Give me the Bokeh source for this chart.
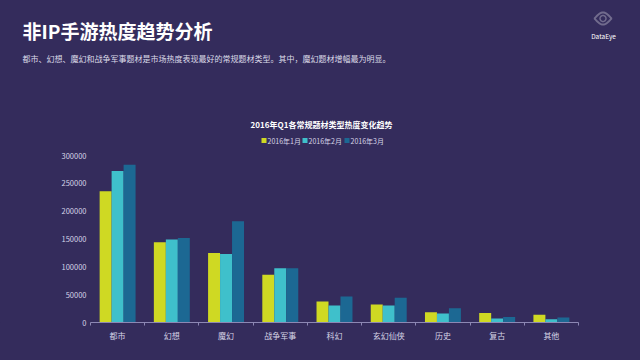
from bokeh.plotting import figure
from bokeh.models import (ColumnDataSource, Range1d, FixedTicker, Label,
                          BoxAnnotation, PolyAnnotation)
from bokeh.embed import file_html
from bokeh.resources import INLINE
import math

# ---- data ----
categories = ["都市", "幻想", "魔幻", "战争军事", "科幻", "玄幻仙侠", "历史", "复古", "其他"]
series_names = ["2016年1月", "2016年2月", "2016年3月"]
jan = [236000, 144000, 125000, 86000, 37700, 32300, 18500, 17000, 14000]
feb = [272000, 149000, 123000, 97400, 30500, 30500, 16100, 7000, 6000]
mar = [283500, 152000, 182000, 97400, 46600, 44300, 25700, 10000, 9000]
y_ticks = [0, 50000, 100000, 150000, 200000, 250000, 300000]
y_max = 300000

BG = "#342c5c"
COLORS = ["#cfd923", "#3fc0cb", "#1c6893"]
FONT = "Noto Sans CJK SC"

W, H = 640, 360
# plot area geometry (pixels): categories span x 90..578, value axis 0 at y=322, max at y=155
AX_L, AX_R, AX_B, AX_T = 90, 578, 322, 155
n = len(categories)
upx = (AX_R - AX_L) / n
x0 = -AX_L / upx
x1 = n + (W - AX_R) / upx
vpx = y_max / (AX_B - AX_T)
ytop = y_max + AX_T * vpx

p = figure(width=W, height=H, output_backend="svg", toolbar_location=None,
           title=None, x_range=Range1d(x0, x1), y_range=Range1d(0, ytop),
           min_border_left=0, min_border_right=0, min_border_top=0,
           min_border_bottom=H - AX_B)
p.background_fill_color = BG
p.border_fill_color = BG
p.outline_line_color = None
p.grid.visible = False

centers = [i + 0.5 for i in range(n)]
bw = 0.221
for k, vals in enumerate([jan, feb, mar]):
    src = ColumnDataSource(dict(x=[c + (k - 1) * bw for c in centers], top=vals))
    p.vbar(x="x", top="top", width=bw, bottom=0, source=src,
           fill_color=COLORS[k], line_color=None)

xa = p.xaxis[0]
xa.bounds = (0, n)
xa.ticker = FixedTicker(ticks=centers, minor_ticks=list(range(n + 1)))
xa.major_label_overrides = {c: t for c, t in zip(centers, categories)}
xa.major_tick_line_color = None
xa.major_tick_out = 0
xa.major_tick_in = 0
xa.minor_tick_line_color = "#8d88b4"
xa.minor_tick_out = 3
xa.minor_tick_in = 0
xa.axis_line_color = "#8d88b4"
xa.major_label_text_color = "#d6d4e6"
xa.major_label_text_font = FONT
xa.major_label_text_font_size = "8px"
xa.major_label_standoff = 4

ya = p.yaxis[0]
ya.ticker = FixedTicker(ticks=y_ticks)
ya.major_label_overrides = {t: str(t) for t in y_ticks}
ya.axis_line_color = None
ya.major_tick_line_color = None
ya.major_tick_out = 0
ya.major_tick_in = 0
ya.minor_tick_line_color = None
ya.minor_tick_out = 0
ya.minor_tick_in = 0
ya.major_label_text_color = "#d6d4e6"
ya.major_label_text_font = FONT
ya.major_label_text_font_size = "7.5px"
ya.major_label_standoff = -(AX_L - 4)

# ---- texts (screen units: x from left edge, y up from the value axis baseline) ----
def lab(x, y, t, size, color="#ffffff", bold=False, align="left"):
    p.add_layout(Label(x=x, y=AX_B - y, x_units="screen", y_units="screen", text=t,
                       text_font=FONT, text_font_size=size,
                       text_color=color, text_font_style="bold" if bold else "normal",
                       text_align=align, text_baseline="middle"))

lab(22, 30, "非IP手游热度趋势分析", "19px", bold=True)
lab(22, 58, "都市、幻想、魔幻和战争军事题材是市场热度表现最好的常规题材类型。其中，魔幻题材增幅最为明显。",
    "8px", color="#dcdbe8")
lab(321, 124, "2016年Q1各常规题材类型热度变化趋势", "8px", bold=True, align="center")
lab(603, 35, "DataEye", "6.5px", align="center")

leg_x = [261, 302, 344]
for k, nm in enumerate(series_names):
    p.add_layout(BoxAnnotation(left=leg_x[k], right=leg_x[k] + 5,
                               bottom=AX_B - 142.5, top=AX_B - 137.5,
                               left_units="screen", right_units="screen",
                               bottom_units="screen", top_units="screen",
                               fill_color=COLORS[k], fill_alpha=1, line_color=None))
    lab(leg_x[k] + 6, 140, nm, "7px", color="#d6d4e6")

# eye logo
cx, cy = 602.5, AX_B - 18
ex, ey = [], []
for i in range(21):
    ex.append(cx - 8.5 + 17 * i / 20)
    ey.append(cy + 6 * math.sin(math.pi * i / 20))
for i in range(21):
    ex.append(cx + 8.5 - 17 * i / 20)
    ey.append(cy - 6 * math.sin(math.pi * i / 20))
p.add_layout(PolyAnnotation(xs=ex, ys=ey, xs_units="screen", ys_units="screen",
                            fill_alpha=0, line_color="#ffffff", line_width=2))
cxs = [cx + 3 * math.cos(2 * math.pi * i / 24) for i in range(24)]
cys = [cy + 3 * math.sin(2 * math.pi * i / 24) for i in range(24)]
p.add_layout(PolyAnnotation(xs=cxs, ys=cys, xs_units="screen", ys_units="screen",
                            fill_alpha=0, line_color="#ffffff", line_width=1.5))

html = file_html(p, INLINE)
html = html.replace("<head>", "<head><style>body{background:%s;}</style>" % BG, 1)
open("out.html", "w").write(html)
